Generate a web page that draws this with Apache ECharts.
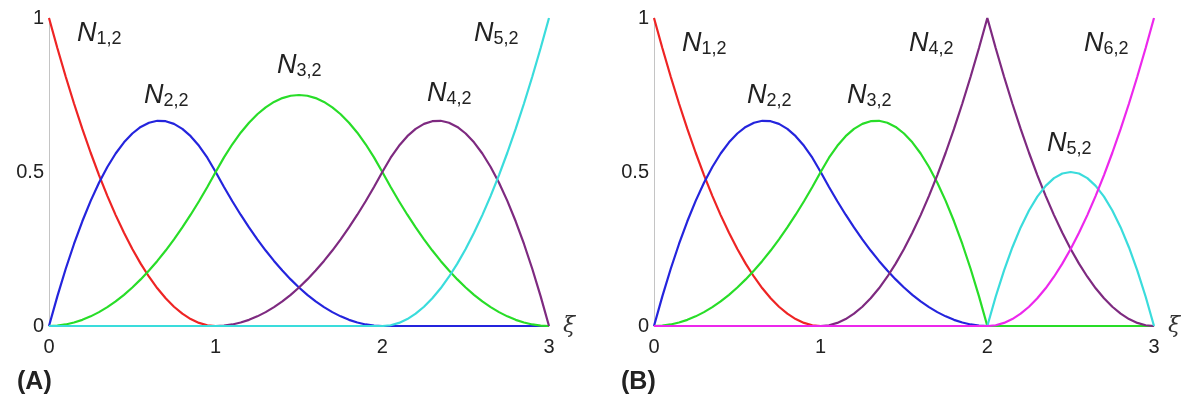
<!DOCTYPE html>
<html>
<head>
<meta charset="utf-8">
<script src="https://cdn.jsdelivr.net/npm/echarts@6/dist/echarts.min.js"></script>
<style>
  html, body { margin: 0; padding: 0; background: #fff; }
  #chart { width: 1192px; height: 401px; }
</style>
</head>
<body>
<div id="chart"></div>
<script>
// Parameter values ξ sampled every 0.05 on [0, 3]
const xi = [0, 0.05, 0.1, 0.15, 0.2, 0.25, 0.3, 0.35, 0.4, 0.45, 0.5, 0.55, 0.6, 0.65, 0.7, 0.75, 0.8, 0.85, 0.9, 0.95,
            1, 1.05, 1.1, 1.15, 1.2, 1.25, 1.3, 1.35, 1.4, 1.45, 1.5, 1.55, 1.6, 1.65, 1.7, 1.75, 1.8, 1.85, 1.9, 1.95,
            2, 2.05, 2.1, 2.15, 2.2, 2.25, 2.3, 2.35, 2.4, 2.45, 2.5, 2.55, 2.6, 2.65, 2.7, 2.75, 2.8, 2.85, 2.9, 2.95, 3];

// (A) quadratic basis, knots {0,0,0,1,2,3,3,3}
const a_N1 = [1, .9025, .81, .7225, .64, .5625, .49, .4225, .36, .3025, .25, .2025, .16, .1225, .09, .0625, .04, .0225, .01, .0025,
  0, 0, 0, 0, 0, 0, 0, 0, 0, 0, 0, 0, 0, 0, 0, 0, 0, 0, 0, 0,
  0, 0, 0, 0, 0, 0, 0, 0, 0, 0, 0, 0, 0, 0, 0, 0, 0, 0, 0, 0, 0];
const a_N2 = [0, .0963, .185, .2663, .34, .4063, .465, .5163, .56, .5963, .625, .6463, .66, .6663, .665, .6563, .64, .6163, .585, .5463,
  .5, .4513, .405, .3613, .32, .2813, .245, .2113, .18, .1513, .125, .1013, .08, .0613, .045, .0313, .02, .0113, .005, .0013,
  0, 0, 0, 0, 0, 0, 0, 0, 0, 0, 0, 0, 0, 0, 0, 0, 0, 0, 0, 0, 0];
const a_N3 = [0, .0013, .005, .0113, .02, .0313, .045, .0613, .08, .1013, .125, .1513, .18, .2113, .245, .2813, .32, .3613, .405, .4513,
  .5, .5475, .59, .6275, .66, .6875, .71, .7275, .74, .7475, .75, .7475, .74, .7275, .71, .6875, .66, .6275, .59, .5475,
  .5, .4513, .405, .3613, .32, .2813, .245, .2113, .18, .1513, .125, .1013, .08, .0613, .045, .0313, .02, .0113, .005, .0013, 0];
const a_N4 = [0, 0, 0, 0, 0, 0, 0, 0, 0, 0, 0, 0, 0, 0, 0, 0, 0, 0, 0, 0,
  0, .0013, .005, .0113, .02, .0313, .045, .0613, .08, .1013, .125, .1513, .18, .2113, .245, .2813, .32, .3613, .405, .4513,
  .5, .5463, .585, .6163, .64, .6563, .665, .6663, .66, .6463, .625, .5963, .56, .5163, .465, .4063, .34, .2663, .185, .0963, 0];
const a_N5 = [0, 0, 0, 0, 0, 0, 0, 0, 0, 0, 0, 0, 0, 0, 0, 0, 0, 0, 0, 0,
  0, 0, 0, 0, 0, 0, 0, 0, 0, 0, 0, 0, 0, 0, 0, 0, 0, 0, 0, 0,
  0, .0025, .01, .0225, .04, .0625, .09, .1225, .16, .2025, .25, .3025, .36, .4225, .49, .5625, .64, .7225, .81, .9025, 1];

// (B) quadratic basis, knots {0,0,0,1,2,2,3,3,3}
const b_N1 = [1, .9025, .81, .7225, .64, .5625, .49, .4225, .36, .3025, .25, .2025, .16, .1225, .09, .0625, .04, .0225, .01, .0025,
  0, 0, 0, 0, 0, 0, 0, 0, 0, 0, 0, 0, 0, 0, 0, 0, 0, 0, 0, 0,
  0, 0, 0, 0, 0, 0, 0, 0, 0, 0, 0, 0, 0, 0, 0, 0, 0, 0, 0, 0, 0];
const b_N2 = [0, .0963, .185, .2663, .34, .4063, .465, .5163, .56, .5963, .625, .6463, .66, .6663, .665, .6563, .64, .6163, .585, .5463,
  .5, .4513, .405, .3613, .32, .2813, .245, .2113, .18, .1513, .125, .1013, .08, .0613, .045, .0313, .02, .0113, .005, .0013,
  0, 0, 0, 0, 0, 0, 0, 0, 0, 0, 0, 0, 0, 0, 0, 0, 0, 0, 0, 0, 0];
const b_N3 = [0, .0013, .005, .0113, .02, .0313, .045, .0613, .08, .1013, .125, .1513, .18, .2113, .245, .2813, .32, .3613, .405, .4513,
  .5, .5463, .585, .6163, .64, .6563, .665, .6663, .66, .6463, .625, .5963, .56, .5163, .465, .4063, .34, .2663, .185, .0963,
  0, 0, 0, 0, 0, 0, 0, 0, 0, 0, 0, 0, 0, 0, 0, 0, 0, 0, 0, 0, 0];
const b_N4 = [0, 0, 0, 0, 0, 0, 0, 0, 0, 0, 0, 0, 0, 0, 0, 0, 0, 0, 0, 0,
  0, .0025, .01, .0225, .04, .0625, .09, .1225, .16, .2025, .25, .3025, .36, .4225, .49, .5625, .64, .7225, .81, .9025,
  1, .9025, .81, .7225, .64, .5625, .49, .4225, .36, .3025, .25, .2025, .16, .1225, .09, .0625, .04, .0225, .01, .0025, 0];
const b_N5 = [0, 0, 0, 0, 0, 0, 0, 0, 0, 0, 0, 0, 0, 0, 0, 0, 0, 0, 0, 0,
  0, 0, 0, 0, 0, 0, 0, 0, 0, 0, 0, 0, 0, 0, 0, 0, 0, 0, 0, 0,
  0, .095, .18, .255, .32, .375, .42, .455, .48, .495, .5, .495, .48, .455, .42, .375, .32, .255, .18, .095, 0];
const b_N6 = [0, 0, 0, 0, 0, 0, 0, 0, 0, 0, 0, 0, 0, 0, 0, 0, 0, 0, 0, 0,
  0, 0, 0, 0, 0, 0, 0, 0, 0, 0, 0, 0, 0, 0, 0, 0, 0, 0, 0, 0,
  0, .0025, .01, .0225, .04, .0625, .09, .1225, .16, .2025, .25, .3025, .36, .4225, .49, .5625, .64, .7225, .81, .9025, 1];

const xTicks = [0, 1, 2, 3];
const yTicks = [0, 0.5, 1];
const panelTitles = ['(A)', '(B)'];

const C = {
  red: '#ee2424', blue: '#2424dd', green: '#28dd28',
  purple: '#7e2a80', cyan: '#3adcdc', magenta: '#ec28ec'
};

const FONT = '"Liberation Sans", Arial, Helvetica, sans-serif';

function pairs(ys) { return xi.map((x, i) => [x, ys[i]]); }

function curve(name, ys, color, idx) {
  return {
    name, type: 'line', xAxisIndex: idx, yAxisIndex: idx,
    data: pairs(ys), showSymbol: false, symbol: 'none',
    lineStyle: { color, width: 2.2 }, silent: true, animation: false
  };
}

function xAx(idx) {
  return {
    type: 'value', gridIndex: idx, min: 0, max: 3, interval: 1,
    axisLine: { show: true, lineStyle: { color: '#c4c4c4', width: 1 } },
    axisTick: { show: false }, splitLine: { show: false },
    axisLabel: { color: '#222', fontSize: 20, fontFamily: FONT, margin: 11,
      formatter: v => xTicks.includes(v) ? String(v) : '' },
    name: 'ξ', nameLocation: 'end', nameGap: 14,
    nameTextStyle: { color: '#333', fontSize: 22, fontStyle: 'italic', fontFamily: '"DejaVu Serif", serif', padding: [16, 0, 0, 0] }
  };
}

function yAx(idx) {
  return {
    type: 'value', gridIndex: idx, min: 0, max: 1, interval: 0.5,
    axisLine: { show: true, lineStyle: { color: '#c4c4c4', width: 1 } },
    axisTick: { show: false }, splitLine: { show: false },
    axisLabel: { color: '#222', fontSize: 20, fontFamily: FONT, margin: 5,
      formatter: v => yTicks.includes(v) ? String(v) : '' }
  };
}

// Basis function label N_{i,2}
function nLabel(i, left, top) {
  return {
    type: 'text', left, top, silent: true,
    style: {
      text: '{n|N}{s|' + i + ',2}',
      rich: {
        n: { fontSize: 27, fontStyle: 'italic', fontFamily: FONT, fill: '#222', color: '#222' },
        s: { fontSize: 18, fontFamily: FONT, fill: '#222', color: '#222', padding: [12, 0, 0, 0] }
      }
    }
  };
}

const chart = echarts.init(document.getElementById('chart'), null, { renderer: 'canvas' });
chart.setOption({
  animation: false,
  backgroundColor: '#fff',
  grid: [
    { left: 49, top: 18, width: 500, height: 308 },
    { left: 654, top: 18, width: 500, height: 308 }
  ],
  xAxis: [xAx(0), xAx(1)],
  yAxis: [yAx(0), yAx(1)],
  series: [
    curve('N1,2', a_N1, C.red, 0),
    curve('N2,2', a_N2, C.blue, 0),
    curve('N3,2', a_N3, C.green, 0),
    curve('N4,2', a_N4, C.purple, 0),
    curve('N5,2', a_N5, C.cyan, 0),
    curve('N1,2', b_N1, C.red, 1),
    curve('N2,2', b_N2, C.blue, 1),
    curve('N3,2', b_N3, C.green, 1),
    curve('N4,2', b_N4, C.purple, 1),
    curve('N5,2', b_N5, C.cyan, 1),
    curve('N6,2', b_N6, C.magenta, 1)
  ],
  graphic: [
    nLabel(1, 77, 20), nLabel(2, 144, 82), nLabel(3, 277, 52), nLabel(4, 427, 80), nLabel(5, 474, 20),
    nLabel(1, 682, 30), nLabel(2, 747, 82), nLabel(3, 847, 82), nLabel(4, 909, 30), nLabel(5, 1047, 130), nLabel(6, 1084, 30),
    { type: 'text', left: 17, top: 370, silent: true,
      style: { text: panelTitles[0], font: 'bold 25px ' + FONT, fill: '#222' } },
    { type: 'text', left: 621, top: 370, silent: true,
      style: { text: panelTitles[1], font: 'bold 25px ' + FONT, fill: '#222' } }
  ]
});
</script>
</body>
</html>
